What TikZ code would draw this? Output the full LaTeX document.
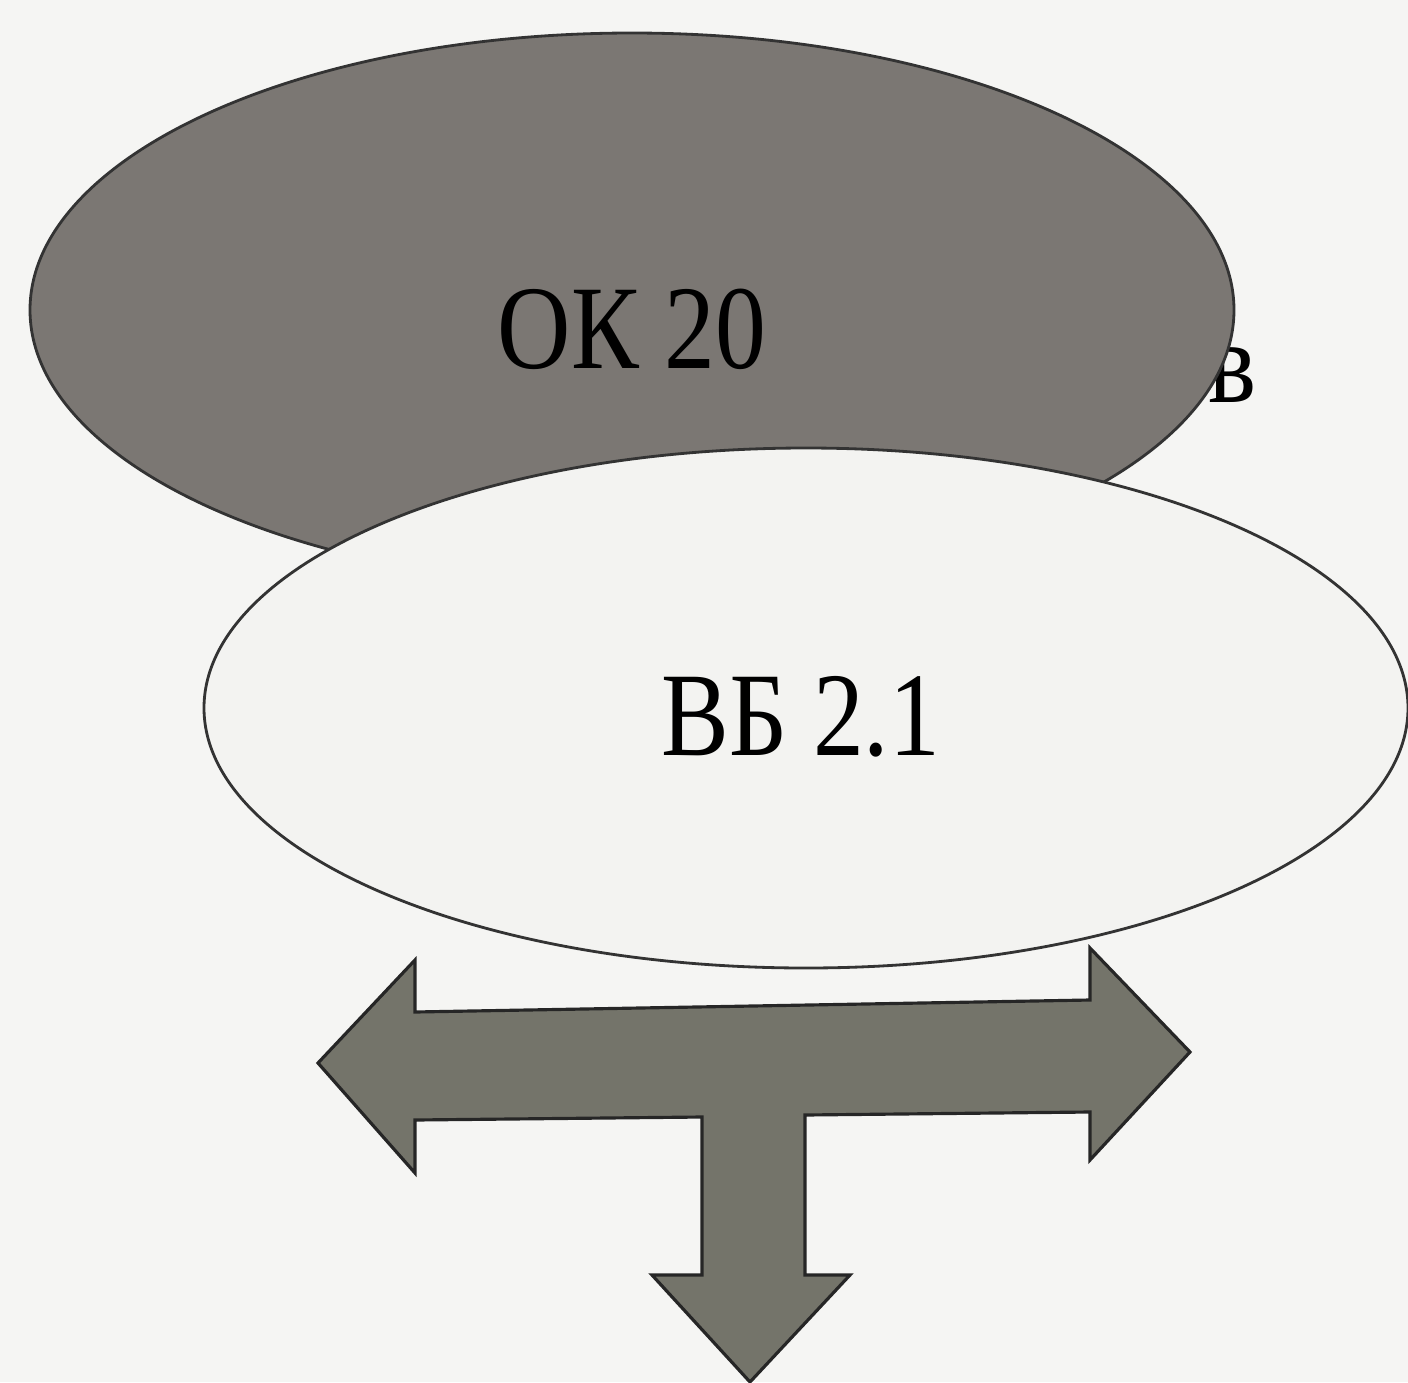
\documentclass[tikz,border=0pt]{standalone}
\usepackage{fontspec}
\setmainfont{Liberation Serif}
\newfontfamily\labelfont[FakeStretch=0.85]{Liberation Serif}
\usetikzlibrary{shapes.geometric}
\definecolor{paper}{HTML}{F5F5F3}
\definecolor{okgray}{HTML}{7B7773}
\definecolor{vbwhite}{HTML}{F3F3F1}
\definecolor{arrowgray}{HTML}{74746A}
\tikzset{
  blob/.style={ellipse,draw=black!80,line width=0.8pt,inner sep=0pt},
  txt/.style={anchor=base,inner sep=0pt,font=\labelfont\fontsize{34}{40}\selectfont}
}
\begin{document}
\begin{tikzpicture}
\fill[paper] (0,0) rectangle (14.08,-13.82);
\useasboundingbox (0,0) rectangle (14.08,-13.82);
\node (letter) at (12.32,-4.02)[txt]{в};
\node (ok) at (6.32,-3.10)[blob,fill=okgray,minimum width=12.04cm,minimum height=5.54cm]{};
\node (oklabel) at (6.32,-3.68)[txt]{ОК 20};
% three-way arrow under the white ellipse
\draw[fill=arrowgray,draw=black!85,line width=0.9pt,line join=miter]
  (3.18,-10.63)--(4.15,-9.60)--(4.15,-10.12)--(10.90,-10.00)--(10.90,-9.48)
  --(11.90,-10.52)--(10.90,-11.60)--(10.90,-11.12)--(8.05,-11.15)--(8.05,-12.75)
  --(8.50,-12.75)--(7.50,-13.82)--(6.52,-12.75)--(7.02,-12.75)--(7.02,-11.17)
  --(4.15,-11.20)--(4.15,-11.73)--cycle;
\node (vb) at (8.06,-7.08)[blob,fill=vbwhite,minimum width=12.04cm,minimum height=5.20cm]{};
\node (vblabel) at (8.01,-7.55)[txt]{ВБ 2.1};
\end{tikzpicture}
\end{document}
